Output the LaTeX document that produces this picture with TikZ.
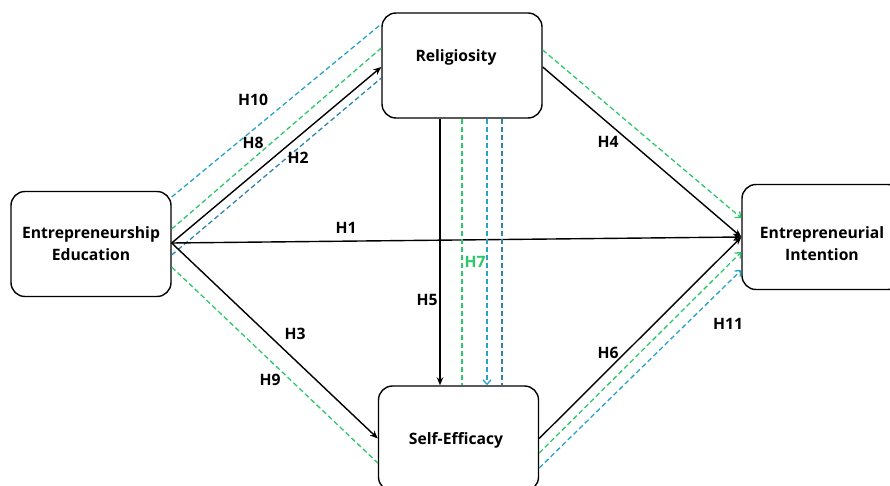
\documentclass[tikz,border=0pt]{standalone}
\usepackage{fontspec}
\setmainfont{Open Sans}
\usetikzlibrary{arrows.meta,calc}
\definecolor{cgreen}{RGB}{45,200,106}
\definecolor{cblue}{RGB}{39,163,201}
\definecolor{cteal}{RGB}{47,134,166}
\tikzset{
  box/.style={draw, line width=1.4pt, rounded corners=14pt, minimum width=160pt, minimum height=105pt, inner sep=0pt},
  boxtext/.style={font=\fontsize{15.7}{22}\selectfont\bfseries, align=center, inner sep=0pt},
  lab/.style={font=\fontsize{15.7}{18}\selectfont\bfseries, inner sep=0pt},
  solidarr/.style={line width=1.4pt, -{Stealth[length=8pt,width=6.5pt]}},
  dashline/.style={line width=1.3pt, dash pattern=on 5pt off 3pt},
  dasharr/.style={dashline, -{Straight Barb[length=4.5pt,width=8pt]}}
}
\begin{document}
\begin{tikzpicture}[x=1pt,y=-1pt]
\useasboundingbox (0,0) rectangle (890,486);
\clip (0,0) rectangle (890,486);
% boxes
\node[box] (ee) at (91,244) {};
\node[box] (rel) at (462,65.5) {};
\node[box] (se) at (458.5,438.5) {};
\node[box] (ei) at (822,237) {};
\node[boxtext] (eet) at (91,244) {Entrepreneurship\\Education};
\node[boxtext] (relt) at (456,57) {Religiosity};
\node[boxtext] (set) at (456,440) {Self-Efficacy};
\node[boxtext] (eit) at (822,244) {Entrepreneurial\\Intention};
% EE -> Religiosity
\draw[dashline, cblue] ([yshift=47pt]ee.east) -- ([yshift=41.5pt]rel.west);
\draw[dashline, cgreen] ([yshift=15pt]ee.east) -- ([yshift=17.5pt]rel.west);
\draw[solidarr] ([yshift=1pt]ee.east) -- ([yshift=-1.5pt]rel.west);
\draw[dashline, cteal] ([yshift=-11pt]ee.east) -- ([yshift=-12.5pt]rel.west);
% EE -> EI
\draw[solidarr] ([yshift=1pt]ee.east) -- (ei.west);
% EE -> SE
\draw[solidarr] ([yshift=1pt]ee.east) -- (se.west);
\draw[dashline, cgreen] ([yshift=-23pt]ee.east) -- ([yshift=-24.5pt]se.west);
% Rel -> SE (vertical)
\coordinate (v1) at ($(rel.south)+(-22,0)$);
\coordinate (v2) at ($(rel.south)+(0,0)$);
\coordinate (v3) at ($(rel.south)+(25,0)$);
\coordinate (v4) at ($(rel.south)+(40,0)$);
\draw[solidarr] (v1) -- (v1 |- se.north);
\draw[dashline, cgreen] (v2) -- (v2 |- se.north);
\draw[dasharr, cblue] (v3) -- (v3 |- se.north);
\draw[dashline, cteal] (v4) -- (v4 |- se.north);
% Rel -> EI
\draw[solidarr] ([yshift=-1.5pt]rel.east) -- (ei.west);
\draw[dasharr, cgreen] ([yshift=15.5pt]rel.east) -- ([yshift=19pt]ei.west);
% SE -> EI
\draw[solidarr] ([yshift=0pt]se.east) -- (ei.west);
\draw[dasharr, cgreen] ([yshift=-14.5pt]se.east) -- ([yshift=-15pt]ei.west);
\draw[dasharr, cblue] ([yshift=-29.5pt]se.east) -- ([yshift=-33pt]ei.west);
% labels
\node[lab] (h10) at (253,100) {H10};
\node[lab] (h8) at (253,143) {H8};
\node[lab] (h2) at (298,158) {H2};
\node[lab] (h1) at (346,228) {H1};
\node[lab] (h3) at (295,334) {H3};
\node[lab] (h9) at (270,380) {H9};
\node[lab] (h5) at (427,300) {H5};
\node[lab, text=cgreen] (h7) at (475,262) {H7};
\node[lab] (h4) at (608,142) {H4};
\node[lab] (h6) at (608,353) {H6};
\node[lab] (h11) at (728,324) {H11};
\end{tikzpicture}
\end{document}
